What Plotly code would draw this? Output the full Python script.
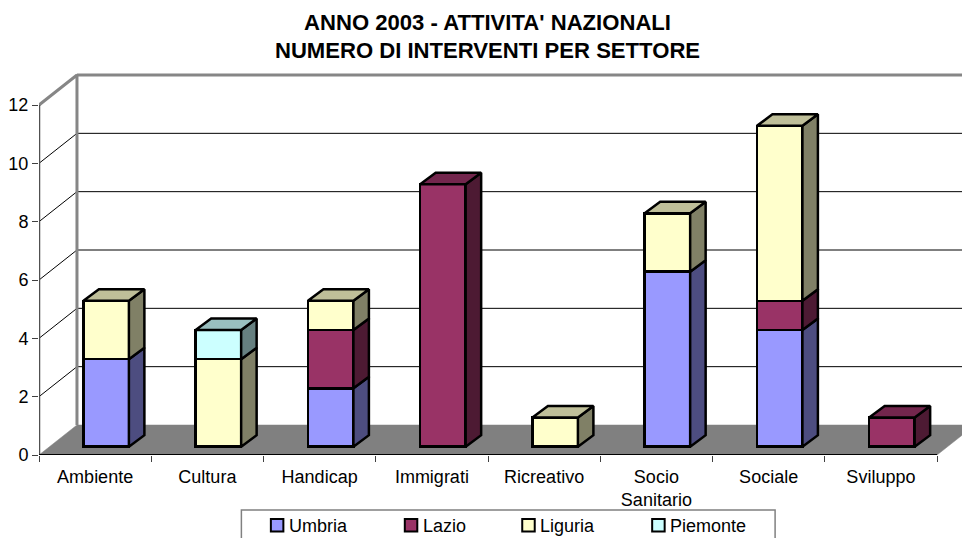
import plotly.graph_objects as go

categories = ["Ambiente", "Cultura", "Handicap", "Immigrati", "Ricreativo", "Socio<br>Sanitario", "Sociale", "Sviluppo"]
umbria = [3, 0, 2, 0, 0, 6, 4, 0]
lazio = [0, 0, 2, 9, 0, 0, 1, 1]
liguria = [2, 3, 1, 0, 1, 2, 6, 0]
piemonte = [0, 1, 0, 0, 0, 0, 0, 0]
y_ticks = [0, 2, 4, 6, 8, 10, 12]

series = [
    ("Umbria", umbria, "#9999FF", "#7373BF", "#4D4D80"),
    ("Lazio", lazio, "#993366", "#73264D", "#4D1A33"),
    ("Liguria", liguria, "#FFFFCC", "#BFBF99", "#808066"),
    ("Piemonte", piemonte, "#CCFFFF", "#99BFBF", "#668080"),
]

W, H = 962, 538
L, R, T, B = 38.5, 0, 70, 83
PX_X = (937 - 38.5) / 8
PX_Y = 350 / 12
x_max = (W - L - R) / PX_X
y_max = (H - B - T) / PX_Y
WALL_DX, WALL_DY = 38 / PX_X, 30 / PX_Y
BAR_W, BAR_DX, BAR_DY = 45.5 / PX_X, 15.5 / PX_X, 11.5 / PX_Y
BAR_SHIFT_X, BAR_SHIFT_Y = (105.7 - L) / PX_X, 8.3 / PX_Y

def paper_x(px):
    return (px - L) / (W - L - R)

def paper_y(py):
    return (H - B - py) / (H - B - T)

fig = go.Figure()

def frame(xs, ys, color, width):
    fig.add_trace(go.Scatter(x=xs, y=ys, mode="lines", line=dict(color=color, width=width),
                             showlegend=False, hoverinfo="skip", cliponaxis=False))

fig.add_trace(go.Scatter(x=[0, 8, 8 + WALL_DX, WALL_DX, 0], y=[0, 0, WALL_DY, WALL_DY, 0],
                         mode="lines", fill="toself", fillcolor="#808080",
                         line=dict(color="#808080", width=0.5), showlegend=False, hoverinfo="skip"))
gx, gy = [], []
for v in y_ticks[1:-1]:
    gx += [0, WALL_DX, x_max, None]
    gy += [v, v + WALL_DY, v + WALL_DY, None]
frame(gx, gy, "#000000", 1)
frame([0, WALL_DX, WALL_DX], [y_ticks[-1], y_ticks[-1] + WALL_DY, WALL_DY], "#868686", 3)
frame([WALL_DX, x_max], [y_ticks[-1] + WALL_DY] * 2, "#868686", 3)
frame([0, 0], [0, y_ticks[-1]], "#505050", 2.5)
frame([0, 8], [0, 0], "#000000", 2)

stack = [0] * len(categories)
tops = [max(i for i, s in enumerate(series) if s[1][k] > 0) for k in range(len(categories))]
xs_idx = list(range(len(categories)))
for si, (name, vals, front, top, side) in enumerate(series):
    idx = [k for k in xs_idx if vals[k] > 0]
    fig.add_trace(go.Bar(x=idx, y=[vals[k] for k in idx], name=name, width=BAR_W, showlegend=False,
                         marker=dict(color=front, line=dict(color="#000000", width=2.5)),
                         xaxis="x2", yaxis="y2"))
    sx, sy, tx, ty = [], [], [], []
    for k in idx:
        y0, y1 = stack[k], stack[k] + vals[k]
        xr = k + BAR_W / 2
        xl = k - BAR_W / 2
        sx += [xr, xr + BAR_DX, xr + BAR_DX, xr, xr, None]
        sy += [y0, y0 + BAR_DY, y1 + BAR_DY, y1, y0, None]
        if tops[k] == si:
            tx += [xl, xl + BAR_DX, xr + BAR_DX, xr, xl, None]
            ty += [y1, y1 + BAR_DY, y1 + BAR_DY, y1, y1, None]
        stack[k] = y1
    line = dict(color="#000000", width=2.5)
    fig.add_trace(go.Scatter(x=sx, y=sy, mode="lines", fill="toself", fillcolor=side, line=line,
                             showlegend=False, hoverinfo="skip", xaxis="x2", yaxis="y2"))
    if tx:
        fig.add_trace(go.Scatter(x=tx, y=ty, mode="lines", fill="toself", fillcolor=top, line=line,
                                 showlegend=False, hoverinfo="skip", xaxis="x2", yaxis="y2"))

font = "Liberation Sans, Arial, sans-serif"

# legend box, swatches and labels
LEGEND_SWATCH_PX = [270.5, 404.5, 522, 652]
shapes = [dict(type="rect", xref="paper", yref="paper",
               x0=paper_x(241), x1=paper_x(775), y0=paper_y(510), y1=paper_y(548),
               line=dict(color="#808080", width=1.5), fillcolor="#FFFFFF")]
annotations = []
for (name, _, front, _, _), sx0 in zip(series, LEGEND_SWATCH_PX):
    shapes.append(dict(type="rect", xref="paper", yref="paper",
                       x0=paper_x(sx0), x1=paper_x(sx0 + 12.5), y0=paper_y(519), y1=paper_y(531.5),
                       line=dict(color="#000000", width=2), fillcolor=front))
    annotations.append(dict(text=name, xref="paper", yref="paper", x=paper_x(sx0 + 17), y=paper_y(525.5),
                            xanchor="left", yanchor="middle", showarrow=False, xshift=0,
                            font=dict(size=18, color="#000000"), borderpad=0))

fig.update_layout(
    width=W, height=H, autosize=False,
    margin=dict(l=L, r=R, t=T, b=B, pad=0),
    paper_bgcolor="#FFFFFF", plot_bgcolor="#FFFFFF",
    font=dict(family=font, size=18, color="#000000"),
    barmode="stack", showlegend=False,
    title=dict(text="ANNO 2003 - ATTIVITA' NAZIONALI<br>NUMERO DI INTERVENTI PER SETTORE",
               font=dict(family=font, size=22.1, color="#000000", weight="bold"),
               x=(487.5 / W), xanchor="center", y=0.945, yanchor="top"),
    xaxis=dict(range=[0, x_max], tickvals=[k + 0.5 for k in xs_idx], ticktext=categories,
               showgrid=False, zeroline=False, showline=False, ticks="",
               tickfont=dict(size=18), ticklabelstandoff=9,
               minor=dict(tickvals=list(range(len(categories) + 1)), ticks="outside", ticklen=6,
                          tickcolor="#404040", tickwidth=1, showgrid=False)),
    yaxis=dict(range=[0, y_max], tickvals=y_ticks, showgrid=False, zeroline=False, showline=False,
               ticks="outside", ticklen=6, tickcolor="#404040", tickwidth=1, tickfont=dict(size=18)),
    xaxis2=dict(range=[-BAR_SHIFT_X, x_max - BAR_SHIFT_X], overlaying="x", anchor="y2", visible=False),
    yaxis2=dict(range=[-BAR_SHIFT_Y, y_max - BAR_SHIFT_Y], overlaying="y", anchor="x2", visible=False),
    shapes=shapes, annotations=annotations,
)

fig.write_html("out.html", config={"displayModeBar": False},
               post_script="document.body.style.margin='0';document.documentElement.style.overflow='hidden';")
